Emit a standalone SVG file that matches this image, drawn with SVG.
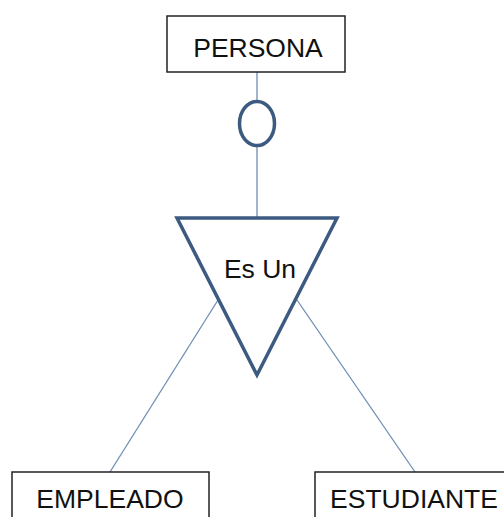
<svg xmlns="http://www.w3.org/2000/svg" width="504" height="517" viewBox="0 0 504 517">
<style>
.box{fill:#fff;stroke:#222;stroke-width:1.5}
.sym{fill:#fff;stroke:#3d5a80;stroke-width:3.5;stroke-linejoin:miter}
.con{stroke:#6f8db3;stroke-width:1.3;fill:none}
.lbl{font-family:"Liberation Sans",Arial,sans-serif;font-size:26.5px;fill:#111;text-anchor:middle}
</style>
<rect width="504" height="517" fill="#fff"/>
<g id="connectors">
<line class="con" x1="257" y1="72" x2="257" y2="101"/>
<line class="con" x1="257" y1="146" x2="257" y2="218"/>
<line class="con" x1="218" y1="300" x2="110" y2="472"/>
<line class="con" x1="297" y1="300" x2="415" y2="472"/>
</g>
<g id="persona">
<rect class="box" x="167" y="16" width="178" height="56"/>
<text class="lbl" x="258" y="57">PERSONA</text>
</g>
<g id="disjoint">
<ellipse class="sym" cx="257" cy="123.5" rx="17.5" ry="22"/>
</g>
<g id="es-un">
<polygon class="sym" points="177,218 337,218 257,375"/>
<text class="lbl" x="260" y="278">Es Un</text>
</g>
<g id="empleado">
<rect class="box" x="12" y="472" width="197" height="60"/>
<text class="lbl" x="110" y="508">EMPLEADO</text>
</g>
<g id="estudiante">
<rect class="box" x="315" y="472" width="200" height="60"/>
<text class="lbl" x="414" y="508">ESTUDIANTE</text>
</g>
</svg>
